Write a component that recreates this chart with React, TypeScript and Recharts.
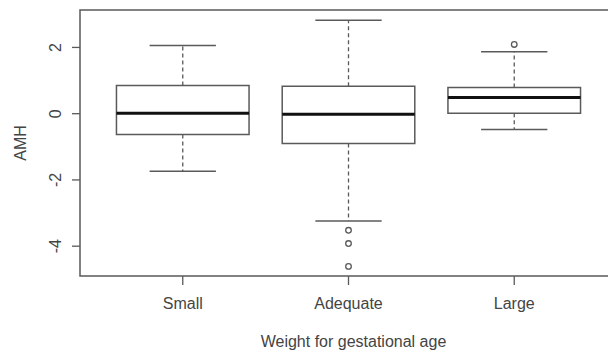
import React from 'react';
import {
  ComposedChart,
  XAxis,
  YAxis,
  Scatter,
  ReferenceArea,
  ReferenceLine,
  Label,
} from 'recharts';

// ---- data ----
const categories = ['Small', 'Adequate', 'Large'];
const lowerWhisker = [-1.74, -3.24, -0.48];
const lowerQuartile = [-0.63, -0.9, 0.01];
const medians = [0.01, -0.02, 0.49];
const upperQuartile = [0.85, 0.83, 0.79];
const upperWhisker = [2.06, 2.82, 1.87];
const outlierValues = [[], [-3.52, -3.92, -4.61], [2.09]];
const yTicks = [-4, -2, 0, 2];
const xPositions = [1, 2, 3];
const xDomain = [0.38, 3.62];
const yDomain = [-4.9, 3.13];

const BOX_HALF = 0.4;
const CAP_HALF = 0.2;

const LINE = '#5a5a5a';
const TEXT = '#444444';
const FONT = '"Liberation Sans", Arial, Helvetica, sans-serif';

const outlierData = outlierValues.flatMap((vals, i) =>
  vals.map((v) => ({ x: xPositions[i], y: v }))
);

const YTick = (props: any) => {
  const { x, y, payload } = props;
  return (
    <text
      transform={`translate(${x},${y}) rotate(-90)`}
      textAnchor="middle"
      fill={TEXT}
      fontSize={16}
      fontFamily={FONT}
    >
      {payload.value}
    </text>
  );
};

const YTitle = (props: any) => {
  const vb = props.viewBox || { x: 0, y: 10, width: 80, height: 266 };
  return (
    <text
      transform={`translate(${vb.x + 26},${vb.y + vb.height / 2}) rotate(-90)`}
      textAnchor="middle"
      fill={TEXT}
      fontSize={16}
      fontFamily={FONT}
    >
      AMH
    </text>
  );
};

const XTitle = (props: any) => {
  const vb = props.viewBox || { x: 80, y: 276, width: 537, height: 78 };
  return (
    <text
      x={vb.x + vb.width / 2 + 5}
      y={vb.y + vb.height - 7}
      textAnchor="middle"
      fill={TEXT}
      fontSize={16}
      fontFamily={FONT}
    >
      Weight for gestational age
    </text>
  );
};

const Outlier = (props: any) => {
  const { cx, cy } = props;
  return <circle cx={cx} cy={cy} r={2.8} fill="none" stroke={LINE} strokeWidth={1.3} />;
};

export default function App() {
  return (
    <div style={{ position: 'absolute', left: 0, top: 0, width: 608, height: 354, background: '#fff', overflow: 'hidden' }}>
      <ComposedChart
        width={608}
        height={354}
        margin={{ top: 10, right: -9, bottom: 0, left: 0 }}
        style={{ fontFamily: FONT }}
      >
        <XAxis
          type="number"
          dataKey="x"
          domain={xDomain}
          allowDataOverflow
          ticks={xPositions}
          tickFormatter={(v: number) => categories[v - 1] ?? ''}
          height={78}
          tickSize={9}
          tickMargin={13}
          axisLine={false}
          tickLine={{ stroke: LINE, strokeWidth: 1.3 }}
          tick={{ fill: TEXT, fontSize: 16, fontFamily: FONT }}
          interval={0}
        >
          <Label content={XTitle} />
        </XAxis>
        <YAxis
          type="number"
          dataKey="y"
          domain={yDomain}
          allowDataOverflow
          ticks={yTicks}
          width={80}
          tickSize={8}
          tickMargin={11.5}
          axisLine={false}
          tickLine={{ stroke: LINE, strokeWidth: 1.3 }}
          tick={<YTick />}
          interval={0}
        >
          <Label content={YTitle} />
        </YAxis>

        {/* plot frame */}
        <ReferenceArea
          x1={xDomain[0]}
          x2={xDomain[1]}
          y1={yDomain[0]}
          y2={yDomain[1]}
          fill="none"
          fillOpacity={0}
          stroke={LINE}
          strokeWidth={1.5}
          ifOverflow="visible"
        />

        {xPositions.map((p, i) => (
          <ReferenceLine
            key={`wu${i}`}
            segment={[{ x: p, y: upperQuartile[i] }, { x: p, y: upperWhisker[i] }]}
            stroke={LINE}
            strokeWidth={1.3}
            strokeDasharray="4 3"
            ifOverflow="visible"
          />
        ))}
        {xPositions.map((p, i) => (
          <ReferenceLine
            key={`wl${i}`}
            segment={[{ x: p, y: lowerQuartile[i] }, { x: p, y: lowerWhisker[i] }]}
            stroke={LINE}
            strokeWidth={1.3}
            strokeDasharray="4 3"
            ifOverflow="visible"
          />
        ))}
        {xPositions.map((p, i) => (
          <ReferenceLine
            key={`cu${i}`}
            segment={[{ x: p - CAP_HALF, y: upperWhisker[i] }, { x: p + CAP_HALF, y: upperWhisker[i] }]}
            stroke={LINE}
            strokeWidth={1.5}
            ifOverflow="visible"
          />
        ))}
        {xPositions.map((p, i) => (
          <ReferenceLine
            key={`cl${i}`}
            segment={[{ x: p - CAP_HALF, y: lowerWhisker[i] }, { x: p + CAP_HALF, y: lowerWhisker[i] }]}
            stroke={LINE}
            strokeWidth={1.5}
            ifOverflow="visible"
          />
        ))}
        {xPositions.map((p, i) => (
          <ReferenceArea
            key={`box${i}`}
            x1={p - BOX_HALF}
            x2={p + BOX_HALF}
            y1={lowerQuartile[i]}
            y2={upperQuartile[i]}
            fill="#ffffff"
            fillOpacity={1}
            stroke={LINE}
            strokeWidth={1.5}
            ifOverflow="visible"
          />
        ))}
        {xPositions.map((p, i) => (
          <ReferenceLine
            key={`med${i}`}
            segment={[{ x: p - BOX_HALF, y: medians[i] }, { x: p + BOX_HALF, y: medians[i] }]}
            stroke="#111111"
            strokeWidth={3}
            ifOverflow="visible"
          />
        ))}

        <Scatter data={outlierData} dataKey="y" shape={<Outlier />} isAnimationActive={false} />
      </ComposedChart>
    </div>
  );
}
